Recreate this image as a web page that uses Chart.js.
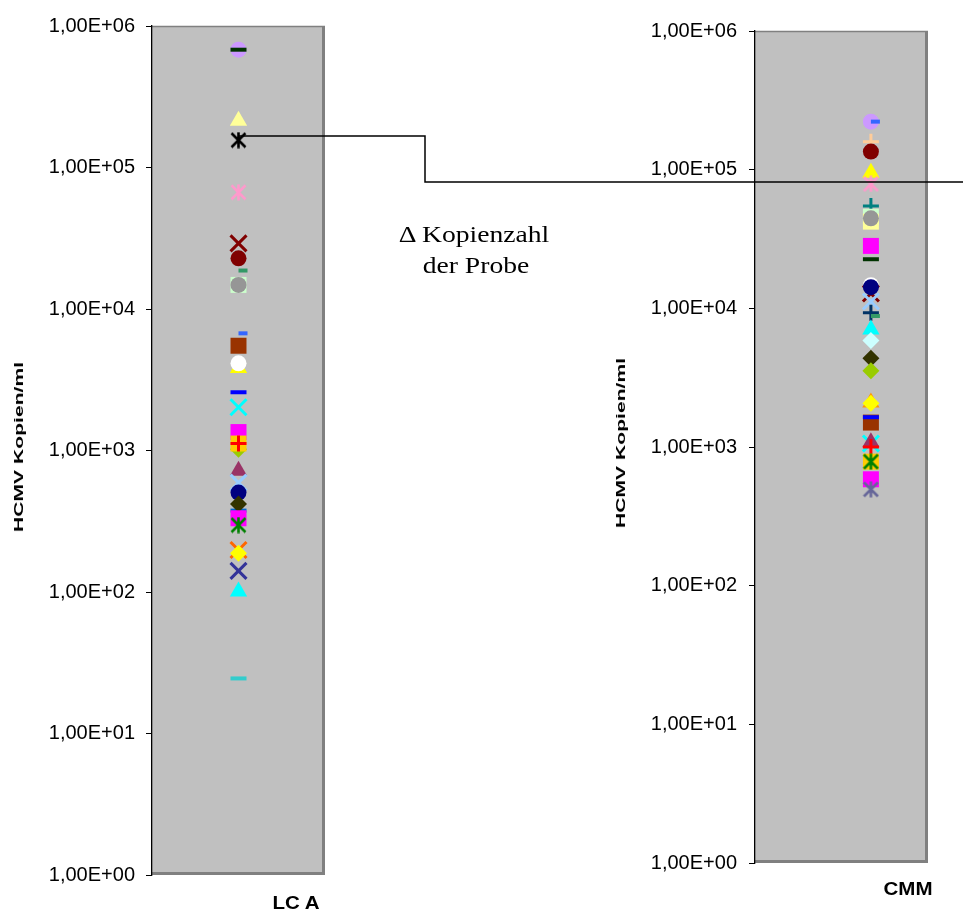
<!DOCTYPE html>
<html>
<head>
<meta charset="utf-8">
<script src="https://cdn.jsdelivr.net/npm/chart.js@4.4.1/dist/chart.umd.min.js"></script>
<style>
  html, body { margin: 0; padding: 0; background: #fff; overflow: hidden; }
  #page { position: relative; width: 963px; height: 912px; }
  canvas { position: absolute; top: 0; }
  .txt { position: absolute; white-space: nowrap; line-height: 1; color: #000; }
  .ytitle { font: bold 12px "Liberation Sans", Arial, sans-serif; transform: translate(-50%, -50%) rotate(-90deg) scaleX(1.76); }
  .xlabel { font: bold 18px "Liberation Sans", Arial, sans-serif; transform: translateX(-50%) scaleX(1.14); }
  .note { font: 24px "Liberation Serif", "Times New Roman", serif; transform: translateX(-50%) scaleX(1.15); }
</style>
</head>
<body>
<div id="page">
  <canvas id="lcaChart" width="340" height="912" style="left:0"></canvas>
  <canvas id="cmmChart" width="363" height="912" style="left:600px"></canvas>
  <canvas id="overlay" width="963" height="912" style="left:0"></canvas>

  <div class="txt ytitle" style="left:19px; top:447px">HCMV Kopien/ml</div>
  <div class="txt ytitle" style="left:621px; top:443px">HCMV Kopien/ml</div>
  <div class="txt xlabel" style="left:296px; top:893px">LC A</div>
  <div class="txt xlabel" style="left:908px; top:879px">CMM</div>
  <div class="txt note" style="left:474px; top:221px">&Delta; Kopienzahl</div>
  <div class="txt note" style="left:476px; top:252px">der Probe</div>
</div>

<script>
// --- Daten ---
const tickValues = [1, 10, 100, 1000, 10000, 100000, 1000000];
const tickLabels = ['1,00E+00', '1,00E+01', '1,00E+02', '1,00E+03', '1,00E+04', '1,00E+05', '1,00E+06'];

// LC A (Reihenfolge = Zeichenreihenfolge, letzter Eintrag liegt oben)
const lcaValues = [680000, 680000, 214000, 156000, 66800, 29100, 22800, 18700, 14800, 14800,
                   6730, 5500, 3830, 4130, 2580, 2020, 1350, 1020, 1120, 1120,
                   719, 593, 504, 376, 419, 332, 297, 198, 188, 141, 101, 24.5];
const lcaShapes = ['circle', 'line', 'triangle', 'asterisk', 'asterisk', 'crossRot', 'circle', 'dash', 'rect', 'circle',
                   'dash', 'rect', 'triangle', 'circle', 'line', 'crossRot', 'rect', 'rectRot', 'rect', 'cross',
                   'triangle', 'crossRot', 'circle', 'line', 'rectRot', 'rect', 'asterisk', 'crossRot', 'rectRot', 'crossRot', 'triangle', 'line'];
const lcaColors = ['#CC99FF', '#003300', '#FFFF99', '#000000', '#FF99CC', '#800000', '#800000', '#339966', '#CCFFCC', '#969696',
                   '#3366FF', '#993300', '#FFFF00', '#FFFFFF', '#0000FF', '#00FFFF', '#FF00FF', '#99CC00', '#FFCC00', '#FF0000',
                   '#993366', '#99CCFF', '#000080', '#0066CC', '#333300', '#FF00FF', '#008000', '#FF6600', '#FFFF00', '#333399', '#00FFFF', '#33CCCC'];

// CMM
const cmmValues = [222000, 222000, 159000, 135000, 95000, 78900, 54700, 45800, 42200, 44600,
                   28200, 22600, 14700, 12800, 14200, 11200, 9300, 8800, 7040, 5850,
                   4360, 3550, 2090, 2070, 1500, 1640, 1060, 1080, 1000, 784, 784, 585, 495];
const cmmShapes = ['circle', 'dash', 'cross', 'circle', 'triangle', 'asterisk', 'cross', 'rect', 'rect', 'circle',
                   'rect', 'line', 'circle', 'crossRot', 'circle', 'crossRot', 'cross', 'dash', 'triangle', 'rectRot',
                   'rectRot', 'rectRot', 'triangle', 'rectRot', 'rect', 'line', 'crossRot', 'triangle', 'cross', 'rect', 'asterisk', 'rect', 'asterisk'];
const cmmColors = ['#CC99FF', '#3366FF', '#FFCC99', '#800000', '#FFFF00', '#FF99CC', '#008080', '#CCFFCC', '#FFFF99', '#969696',
                   '#FF00FF', '#003300', '#FFFFFF', '#800000', '#000080', '#99CCFF', '#003366', '#339966', '#00FFFF', '#CCFFFF',
                   '#333300', '#99CC00', '#FF9900', '#FFFF00', '#993300', '#0000FF', '#00FFFF', '#993366', '#FF0000', '#FFCC00', '#008000', '#FF00FF', '#666699'];

// Verbindungslinie: Kopienzahl LC A -> CMM
const connectorValues = [167000, 81500];

// --- Darstellung ---
const lcaX = 0.5;
const cmmX = 0.67;

function makeAsterisk(color) {
    const c = document.createElement('canvas');
    c.width = 17; c.height = 17;
    const g = c.getContext('2d');
    g.strokeStyle = color;
    g.lineWidth = 2.6;
    g.beginPath();
    g.moveTo(8.5, 0.5); g.lineTo(8.5, 16.5);
    g.moveTo(1.5, 1.5); g.lineTo(15.5, 15.5);
    g.moveTo(15.5, 1.5); g.lineTo(1.5, 15.5);
    g.stroke();
    return c;
}

const shapeMap = {
    circle:   { style: 'circle',   r: 8,    bw: 0 },
    line:     { style: 'line',     r: 8,    bw: 4 },
    dash:     { style: 'dash',     r: 9,    bw: 4 },
    triangle: { style: 'triangle', r: 10,   bw: 0 },
    rect:     { style: 'rect',     r: 11.3, bw: 0 },
    rectRot:  { style: 'rectRot',  r: 8.5,  bw: 0 },
    crossRot: { style: 'crossRot', r: 11.3, bw: 3 },
    cross:    { style: 'cross',    r: 8,    bw: 3 }
};

function buildDatasets(values, shapes, colors, xPos) {
    const sets = values.map((v, i) => {
        const s = shapeMap[shapes[i]];
        const isStar = shapes[i] === 'asterisk';
        return {
            data: [{ x: xPos, y: v }],
            pointStyle: isStar ? makeAsterisk(colors[i]) : s.style,
            pointRadius: isStar ? 8 : s.r,
            pointBackgroundColor: colors[i],
            pointBorderColor: colors[i],
            pointBorderWidth: isStar ? 0 : s.bw,
            showLine: false,
            clip: false
        };
    });
    // erster Datensatz wird zuoberst gezeichnet -> umdrehen
    return sets.reverse();
}

const plotArea = {
    id: 'plotArea',
    beforeDraw(chart) {
        const { ctx, chartArea: a } = chart;
        ctx.save();
        ctx.fillStyle = '#C0C0C0';
        ctx.fillRect(a.left, a.top, a.right - a.left, a.bottom - a.top);
        ctx.strokeStyle = '#808080';
        ctx.lineWidth = 1.5;
        ctx.beginPath();
        ctx.moveTo(a.left, a.top + 0.5); ctx.lineTo(a.right, a.top + 0.5);
        ctx.stroke();
        ctx.lineWidth = 3;
        ctx.beginPath();
        ctx.moveTo(a.right - 1.5, a.top); ctx.lineTo(a.right - 1.5, a.bottom - 1.5); ctx.lineTo(a.left, a.bottom - 1.5);
        ctx.stroke();
        ctx.restore();
    }
};

function makeChart(id, datasets, axisWidth, padding, labelPad) {
    return new Chart(document.getElementById(id), {
        type: 'scatter',
        data: { datasets },
        options: {
            responsive: false,
            animation: false,
            events: [],
            layout: { padding },
            plugins: { legend: { display: false }, tooltip: { enabled: false } },
            scales: {
                x: { type: 'linear', min: 0, max: 1, display: false },
                y: {
                    type: 'logarithmic',
                    min: 1,
                    max: 1000000,
                    afterBuildTicks: (scale) => { scale.ticks = tickValues.map(v => ({ value: v })); },
                    afterFit: (scale) => { scale.width = axisWidth; },
                    ticks: {
                        color: '#000',
                        padding: labelPad,
                        autoSkip: false,
                        font: { family: '"Liberation Sans", Arial, sans-serif', size: 20 },
                        callback: (value) => tickLabels[tickValues.indexOf(value)]
                    },
                    grid: { drawOnChartArea: false, drawTicks: true, tickLength: 6, color: '#000', lineWidth: 1 },
                    border: { color: '#000', width: 1.3 }
                }
            }
        },
        plugins: [plotArea]
    });
}

const lcaChart = makeChart('lcaChart', buildDatasets(lcaValues, lcaShapes, lcaColors, lcaX),
    152, { top: 26, right: 15, bottom: 37, left: 0 }, 11);
const cmmChart = makeChart('cmmChart', buildDatasets(cmmValues, cmmShapes, cmmColors, cmmX),
    155, { top: 31, right: 35, bottom: 49, left: 0 }, 12);

// Verbindungslinie über beide Diagramme
const ov = document.getElementById('overlay').getContext('2d');
const x0 = lcaChart.scales.x.getPixelForValue(lcaX);
const y0 = lcaChart.scales.y.getPixelForValue(connectorValues[0]);
const y1 = cmmChart.scales.y.getPixelForValue(connectorValues[1]);
const bendX = 425;
ov.strokeStyle = '#000';
ov.lineWidth = 1.5;
ov.beginPath();
ov.moveTo(x0, y0);
ov.lineTo(bendX, y0);
ov.lineTo(bendX, y1);
ov.lineTo(963, y1);
ov.stroke();
</script>
</body>
</html>
